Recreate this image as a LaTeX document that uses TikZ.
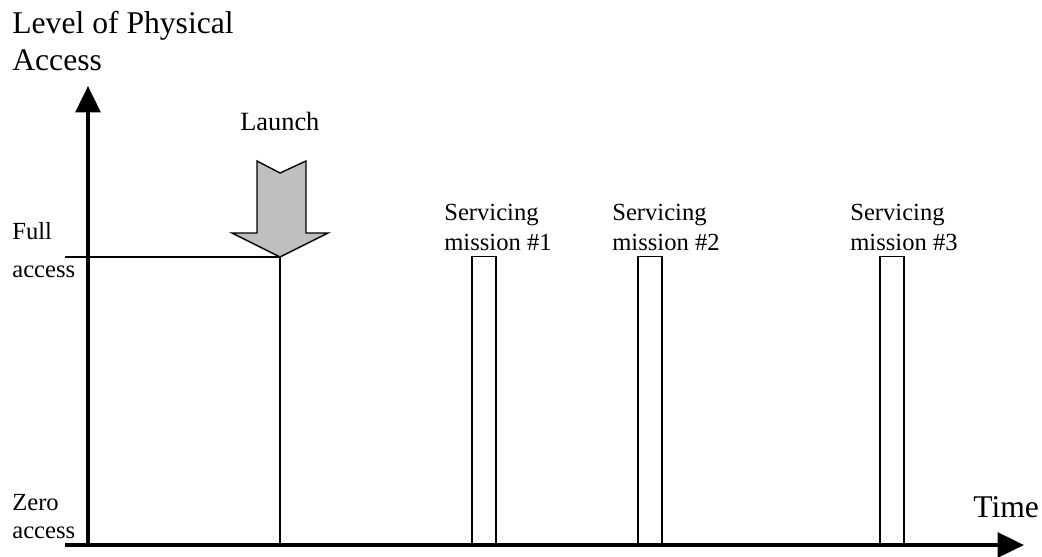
\documentclass[tikz,border=0pt]{standalone}
\usepackage{fontspec}
\setmainfont{Liberation Serif}
\usetikzlibrary{arrows.meta}

\tikzset{
  bigtext/.style={font=\fontsize{18}{21}\selectfont, align=left, inner sep=0pt, anchor=base west},
  launchtext/.style={font=\fontsize{15}{18}\selectfont, inner sep=0pt, anchor=base west},
  smalltext/.style={font=\fontsize{14}{17}\selectfont, align=left, inner sep=0pt, anchor=base west},
  axis/.style={line width=2.3pt, -{Triangle[length=15pt,width=14pt]}},
  thinline/.style={line width=0.8pt},
  mission/.style={draw, line width=0.8pt, inner sep=0pt, anchor=south,
    minimum width=0.48cm, minimum height=5.76cm}
}

\begin{document}
\begin{tikzpicture}[x=0.02cm,y=-0.02cm]
\useasboundingbox (0,0) rectangle (1042,556);

% axes
\coordinate (O) at (88,545);
\coordinate (ytip) at (88,86);
\coordinate (xstart) at (65,545);
\coordinate (xtip) at (1024,545);
\draw [axis] (O) -- (ytip);
\draw [axis] (xstart) -- (xtip);

% labels (base = last line)
\node (lvl) at (12,70) [bigtext]{Level of Physical\\Access};
\node (time) at (973,517) [bigtext]{Time};
\node (full) at (12,277) [smalltext]{Full\\[4.5pt]access};
\node (zero) at (12,538) [smalltext]{Zero\\[-1.5pt]access};

% launch
\coordinate (fullstart) at (65,257);
\coordinate (launchpt) at (280,257);
\draw [thinline] (fullstart) -- (launchpt) -- (launchpt |- O);
\path [draw, thinline, fill=lightgray] (257,161) -- (280,173) -- (306,161) -- (306,233) -- (328,233)
  -- (launchpt) -- (232,233) -- (257,233) -- cycle;
\node (launch) at (240,130) [launchtext]{Launch};

% servicing missions
\node (m1) at (484,545) [mission]{};
\node (m2) at (650,545) [mission]{};
\node (m3) at (892,545) [mission]{};

\node (s1) at (444,250) [smalltext]{Servicing\\mission \#1};
\node (s2) at (612,250) [smalltext]{Servicing\\mission \#2};
\node (s3) at (850,250) [smalltext]{Servicing\\mission \#3};

\end{tikzpicture}
\end{document}
